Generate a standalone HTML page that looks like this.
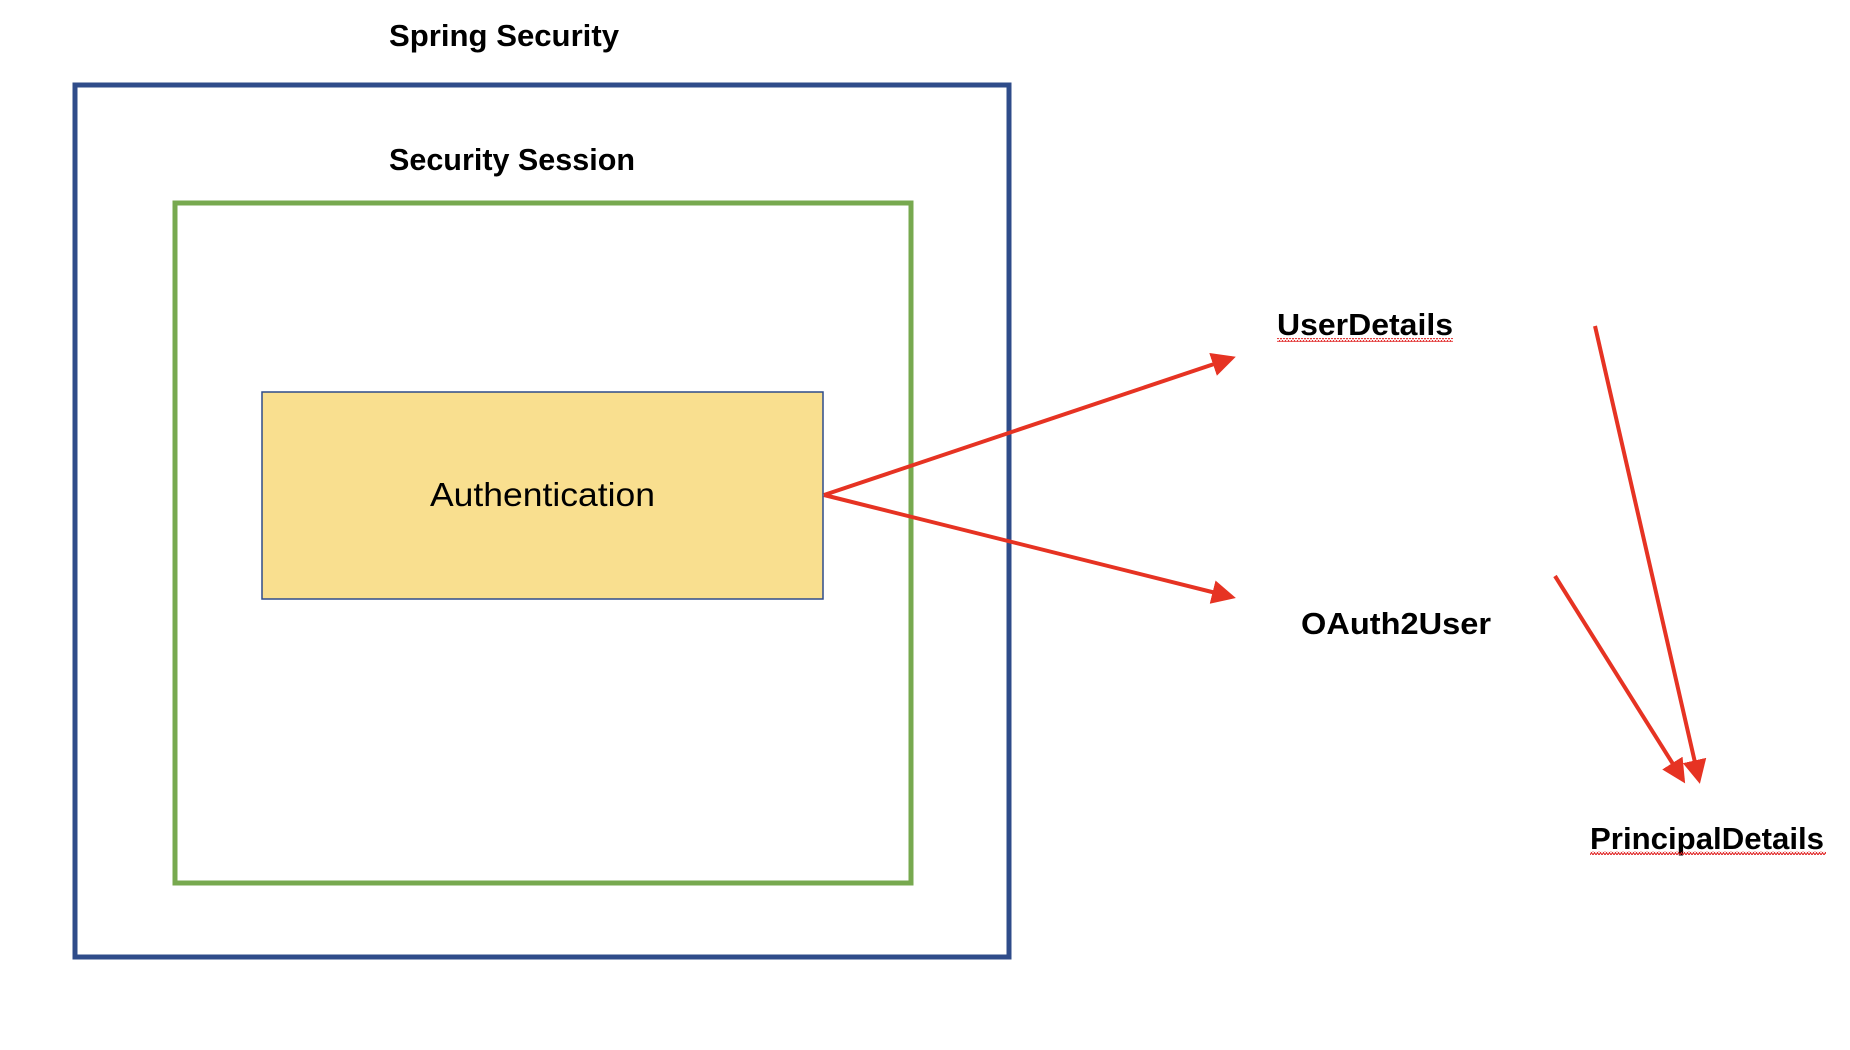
<!DOCTYPE html>
<html><head><style>body{margin:0;background:#fff}svg{display:block}</style></head>
<body>
<svg width="1850" height="1050" viewBox="0 0 1850 1050" xmlns="http://www.w3.org/2000/svg" font-family="Liberation Sans, sans-serif">
<defs>
<marker id="ah" markerWidth="6" markerHeight="6" refX="5" refY="3" orient="auto" markerUnits="strokeWidth">
<path d="M0,0 L6,3 L0,6 z" fill="#e63323"/></marker>
<pattern id="sq" width="6" height="4" patternUnits="userSpaceOnUse"><path d="M0,3 L1.5,0.5 L3,3 L4.5,0.5 L6,3" stroke="#e02020" stroke-width="1" fill="none"/></pattern>
</defs>
<rect x="75" y="85" width="934" height="872" fill="none" stroke="#2f4c8a" stroke-width="5"/>
<rect x="175" y="203" width="736" height="680" fill="none" stroke="#77a94f" stroke-width="5"/>
<rect x="262" y="392" width="561" height="207" fill="#f9df8f" stroke="#2f4c8a" stroke-width="1.5"/>
<text x="389" y="46" font-size="31" font-weight="bold" textLength="230" lengthAdjust="spacingAndGlyphs">Spring Security</text>
<text x="389" y="170" font-size="31" font-weight="bold" textLength="246" lengthAdjust="spacingAndGlyphs">Security Session</text>
<text x="430" y="506" font-size="33" textLength="225" lengthAdjust="spacingAndGlyphs">Authentication</text>
<text x="1277" y="335" font-size="31" font-weight="bold" textLength="176" lengthAdjust="spacingAndGlyphs">UserDetails</text>
<rect x="1277" y="338" width="176" height="4" fill="url(#sq)"/>
<text x="1301" y="634" font-size="31" font-weight="bold" textLength="190" lengthAdjust="spacingAndGlyphs">OAuth2User</text>
<text x="1590" y="849" font-size="31" font-weight="bold" textLength="234" lengthAdjust="spacingAndGlyphs">PrincipalDetails</text>
<rect x="1590" y="851" width="236" height="4" fill="url(#sq)"/>
<g stroke="#e63323" stroke-width="4" fill="none" marker-end="url(#ah)">
<line x1="824" y1="495" x2="1232" y2="358"/>
<line x1="824" y1="495" x2="1232" y2="597"/>
<line x1="1595" y1="326" x2="1699" y2="780"/>
<line x1="1555" y1="576" x2="1683" y2="780"/>
</g>
</svg>
</body></html>
